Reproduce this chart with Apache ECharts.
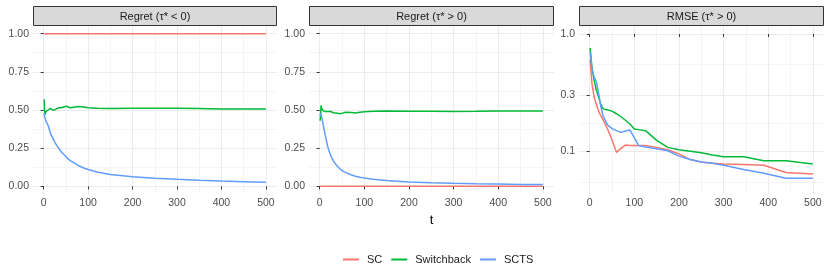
<!DOCTYPE html>
<html><head><meta charset="utf-8">
<script src="https://cdn.jsdelivr.net/npm/echarts@6/dist/echarts.min.js"></script>
<style>html,body{margin:0;padding:0;background:#fff}#c{width:831px;height:277px}</style>
</head><body><div id="c"></div>
<script>
// ---------- data ----------
const seriesNames = ['SC', 'Switchback', 'SCTS'];
const panelTitles = ['Regret (τ* < 0)', 'Regret (τ* > 0)', 'RMSE (τ* > 0)'];
const xTicks = [0, 100, 200, 300, 400, 500];
const xMinorTicks = [50, 150, 250, 350, 450];
const yTicksRegret = [0, 0.25, 0.5, 0.75, 1];
const yMinorRegret = [0.125, 0.375, 0.625, 0.875];
const yTicksRMSE = [0.1, 0.3, 1.0];
const yMinorRMSE = [0.0548, 0.1732, 0.5477];

const tRegret = [1,2,3,4,5,6,8,10,12,15,18,20,25,30,35,40,45,50,55,60,70,80,90,100,120,150,200,250,300,350,400,450,500];

const neg_SC = tRegret.map(() => 1);
const neg_Switchback = [0.57,0.50,0.47,0.48,0.49,0.485,0.495,0.50,0.505,0.51,0.505,0.50,0.50,0.51,0.515,0.515,0.52,0.525,0.52,0.515,0.52,0.523,0.52,0.515,0.512,0.51,0.511,0.511,0.512,0.51,0.507,0.506,0.507];
const neg_SCTS = [0.48,0.46,0.45,0.44,0.43,0.42,0.415,0.40,0.38,0.35,0.33,0.32,0.29,0.265,0.245,0.225,0.21,0.195,0.18,0.168,0.15,0.133,0.12,0.11,0.094,0.078,0.063,0.053,0.046,0.040,0.035,0.031,0.027];

const pos_SC = tRegret.map(() => 0);
const pos_Switchback = [0.43,0.47,0.53,0.515,0.51,0.50,0.505,0.495,0.49,0.488,0.49,0.495,0.49,0.482,0.48,0.478,0.476,0.478,0.483,0.485,0.483,0.48,0.485,0.488,0.492,0.494,0.492,0.492,0.49,0.491,0.494,0.494,0.493];
const pos_SCTS = [0.46,0.48,0.49,0.47,0.45,0.43,0.40,0.37,0.34,0.30,0.26,0.24,0.20,0.17,0.148,0.13,0.115,0.105,0.095,0.088,0.076,0.066,0.06,0.055,0.047,0.038,0.029,0.024,0.02,0.017,0.015,0.013,0.012];

const tRMSE = [1,5,10,15,20,25,30,40,50,60,70,80,90,100,110,125,150,175,200,225,250,275,300,345,390,440,500];
const rmse_SC = [0.60,0.38,0.29,0.25,0.22,0.20,0.185,0.155,0.125,0.098,0.106,0.113,0.112,0.112,0.112,0.112,0.108,0.103,0.095,0.085,0.081,0.079,0.078,0.077,0.076,0.066,0.064];
const rmse_Switchback = [0.76,0.52,0.40,0.33,0.29,0.25,0.23,0.225,0.22,0.209,0.197,0.184,0.171,0.155,0.153,0.15,0.124,0.108,0.103,0.10,0.097,0.093,0.090,0.090,0.083,0.083,0.078];
const rmse_SCTS = [0.70,0.50,0.43,0.39,0.31,0.24,0.20,0.168,0.156,0.15,0.145,0.149,0.152,0.13,0.112,0.109,0.105,0.101,0.091,0.085,0.081,0.079,0.076,0.070,0.065,0.059,0.059];

// ---------- style / layout ----------
const colors = ['#F8766D', '#00BA38', '#619CFF'];
const FONT = 'Liberation Sans, Arial, sans-serif';
const panels = [{left: 33, width: 244}, {left: 309, width: 245}, {left: 579, width: 245}];
const gridTop = 26, gridHeight = 168;
const xRange = [-24, 525];
const yRangeRegret = [-0.05, 1.05];
const yRangeRMSE = [-1.364, 0.068]; // log10 space

const chart = echarts.init(document.getElementById('c'), null, {renderer: 'canvas'});

const grids = panels.map(p => ({left: p.left, width: p.width, top: gridTop, height: gridHeight, containLabel: false}));
const xAxes = [], yAxes = [], series = [], graphics = [];

const majorLine = {show: true, lineStyle: {color: '#EBEBEB', width: 1}};
const minorLine = {show: true, lineStyle: {color: '#F4F4F4', width: 1}};
const labelStyle = {color: '#4D4D4D', fontSize: 10.5, fontFamily: FONT};

panels.forEach((p, i) => {
  const isLog = i === 2;
  xAxes.push({gridIndex: i, type: 'value', position: 'bottom', offset: 0, min: xRange[0], max: xRange[1], z: 0,
    axisLine: {show: false}, axisTick: {show: false, customValues: xMinorTicks},
    axisLabel: {show: false}, splitLine: minorLine});
  xAxes.push({gridIndex: i, type: 'value', position: 'bottom', offset: 0, min: xRange[0], max: xRange[1], z: 1,
    axisLine: {show: false},
    axisTick: {show: true, length: 3, customValues: xTicks, lineStyle: {color: '#333333', width: 1}},
    axisLabel: Object.assign({customValues: xTicks, margin: 4}, labelStyle),
    splitLine: majorLine,
    name: i === 1 ? 't' : '', nameLocation: 'middle', nameGap: 17,
    nameTextStyle: {fontSize: 13, color: '#000', fontFamily: FONT}});
  const yr = isLog ? yRangeRMSE : yRangeRegret;
  const yMaj = isLog ? yTicksRMSE.map(v => Math.log10(v)) : yTicksRegret;
  const yMin = isLog ? yMinorRMSE.map(v => Math.log10(v)) : yMinorRegret;
  yAxes.push({gridIndex: i, type: 'value', position: 'left', offset: 0, min: yr[0], max: yr[1], z: 0,
    axisLine: {show: false}, axisTick: {show: false, customValues: yMin},
    axisLabel: {show: false}, splitLine: minorLine});
  yAxes.push({gridIndex: i, type: 'value', position: 'left', offset: 0, min: yr[0], max: yr[1], z: 1,
    axisLine: {show: false},
    axisTick: {show: true, length: 3, customValues: yMaj, lineStyle: {color: '#333333', width: 1}},
    axisLabel: Object.assign({customValues: yMaj, margin: 4,
      formatter: isLog ? (v => Math.pow(10, v).toFixed(1)) : (v => v.toFixed(2))}, labelStyle),
    splitLine: majorLine});

  graphics.push({type: 'rect', shape: {x: p.left + 0.5, y: 6.5, width: p.width - 1, height: 19},
    style: {fill: '#D9D9D9', stroke: '#333333', lineWidth: 1}, z: 10});
  graphics.push({type: 'text', x: p.left + p.width / 2, y: 16.5, z: 11,
    style: {text: panelTitles[i], fontSize: 11, fontFamily: FONT, fill: '#1A1A1A', align: 'center', verticalAlign: 'middle'}});
});

const panelData = [
  {t: tRegret, vals: [neg_SC, neg_Switchback, neg_SCTS], log: false},
  {t: tRegret, vals: [pos_SC, pos_Switchback, pos_SCTS], log: false},
  {t: tRMSE, vals: [rmse_SC, rmse_Switchback, rmse_SCTS], log: true}
];
panelData.forEach((pd, i) => {
  pd.vals.forEach((arr, k) => {
    series.push({
      name: seriesNames[k], type: 'line', xAxisIndex: 2 * i + 1, yAxisIndex: 2 * i + 1,
      data: pd.t.map((t, j) => [t, pd.log ? Math.log10(arr[j]) : arr[j]]),
      showSymbol: false, symbol: 'none', silent: true, z: 3 + k,
      lineStyle: {color: colors[k], width: 1.5}, itemStyle: {color: colors[k]}
    });
  });
});

chart.setOption({
  animation: false,
  backgroundColor: '#ffffff',
  textStyle: {fontFamily: FONT},
  grid: grids, xAxis: xAxes, yAxis: yAxes, series: series, graphic: graphics,
  legend: {data: seriesNames, top: 249, left: 338, icon: 'rect', itemWidth: 16, itemHeight: 2,
    itemGap: 9, textStyle: {fontSize: 11, color: '#1A1A1A', fontFamily: FONT, padding: [0, 0, 0, 3]}}
});
</script>
</body></html>
